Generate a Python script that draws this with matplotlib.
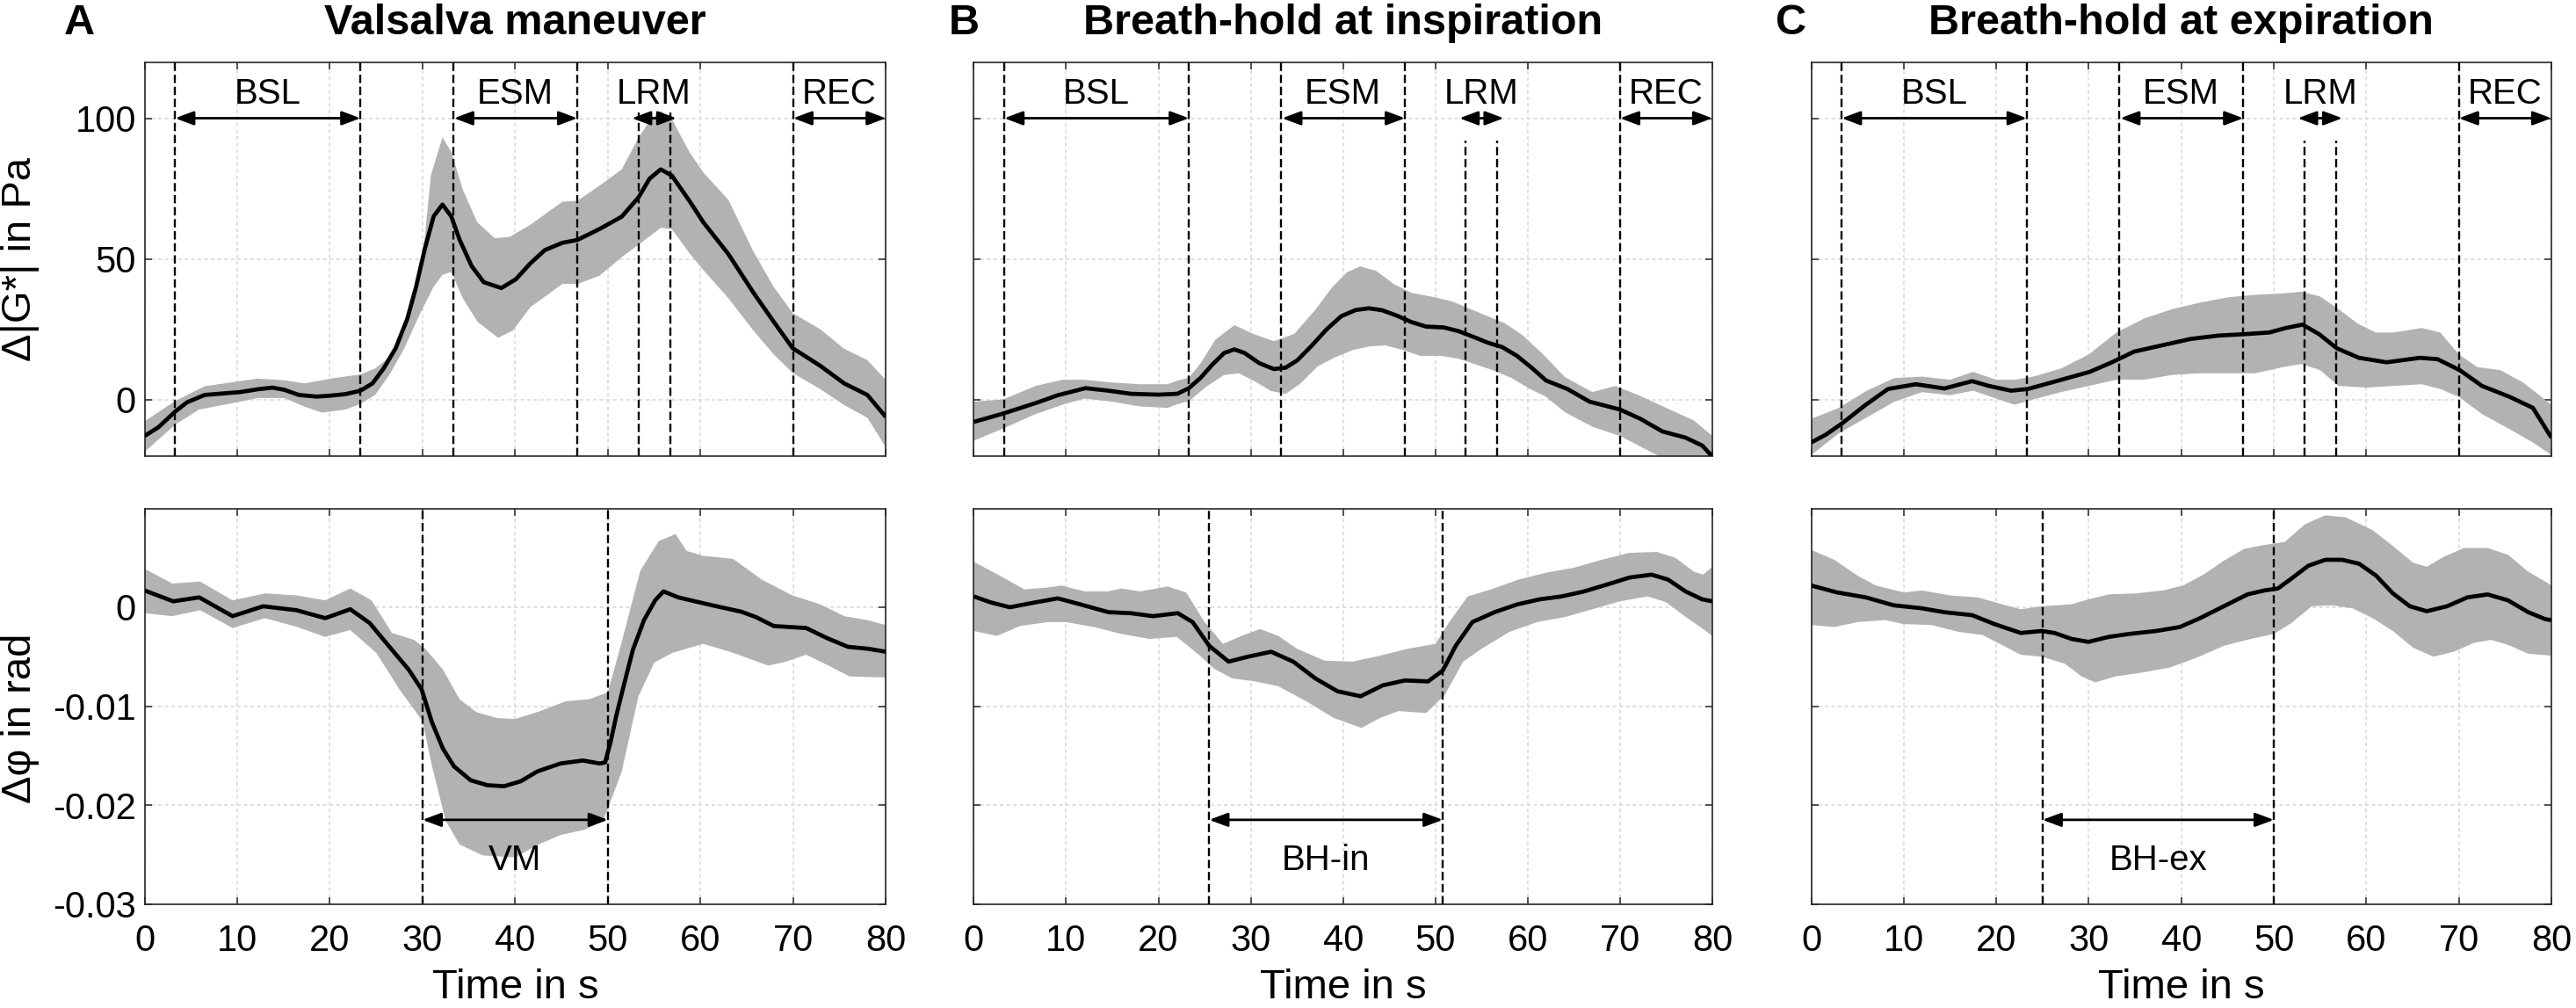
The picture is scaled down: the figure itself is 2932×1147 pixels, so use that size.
import numpy as np
import matplotlib
matplotlib.use("Agg")
import matplotlib.pyplot as plt

plt.rcParams['font.family'] = ['Liberation Sans', 'DejaVu Sans']
plt.rcParams['axes.unicode_minus'] = False

# ---------------- DATA ----------------
titles = ["Valsalva maneuver", "Breath-hold at inspiration", "Breath-hold at expiration"]
letters = ["A", "B", "C"]
x_ticks = [0, 10, 20, 30, 40, 50, 60, 70, 80]
g_ticks = [0, 50, 100]
p_ticks = [-0.03, -0.02, -0.01, 0]
p_tick_labels = ["-0.03", "-0.02", "-0.01", "0"]

# phase boundaries (s) for the |G*| panels
phase_lines = [3.3, 23.3, 33.3, 46.7, 70.0]
lrm_lines = [53.3, 56.7]
lrm_top = [102, 92, 92]
phase_names = ["BSL", "ESM", "LRM", "REC"]
phase_arrow_start = [3.3, 33.4, 52.6, 70.0]
phase_arrow_end = [23.3, 46.7, 57.4, 80.0]
phase_label_x = [13.3, 40.0, 55.0, 75.0]

# manoeuvre windows for the phase panels
man_names = ["VM", "BH-in", "BH-ex"]
man_start = [30.0, 25.5, 25.0]
man_end = [50.0, 50.8, 50.0]

# ---- A: Valsalva, delta |G*| (Pa) ----
tA_g = [0, 1.5, 3.35, 4.6, 6.5, 8.4, 10.3, 12.2, 13.8, 15.1, 16.65, 18.55, 20.1, 21.7, 23.3,
        24.6, 25.8, 27.1, 28.35, 29.3, 30.25, 31.2, 32.15, 33.1, 34.0, 35.3, 36.6, 38.5,
        40.06, 41.64, 43.2, 45.1, 46.7, 49.1, 51.5, 53.3, 54.5, 55.7, 56.9, 58.8, 60.3, 63,
        65.7, 67.9, 69.95, 72.9, 75.5, 78, 80]
mA_g = [-13, -9.9, -4.2, -1, 1.6, 2.1, 2.6, 3.6, 4.2, 3.4, 1.6, 1, 1.35, 1.9, 3.1,
        5.7, 11, 18.2, 28.6, 40, 53.6, 65.1, 69.3, 65.1, 56.8, 47.4, 41.7, 39.6,
        42.7, 48.4, 53.1, 55.7, 56.7, 60.6, 65, 71.8, 78.5, 81.8, 79.6, 70.6, 63, 51.7,
        38, 27.6, 18.2, 12, 5.7, 1.6, -6.25]
tA_g_hi = [0, 3.35, 6.5, 12.2, 15.1, 17.3, 20.1, 23.3, 24.9, 26.45, 28.0, 29.3, 30.25, 30.9,
           32.15, 33.1, 34.36, 35.9, 37.8, 39.4, 41.6, 45.1, 46.7, 49.1, 51.5, 53.3, 54.5,
           55.7, 56.9, 58.8, 60.3, 63, 65.7, 67.9, 69.95, 72.9, 75.5, 78, 80]
hiA_g = [-7.8, -0.5, 4.7, 7.4, 6.8, 5.7, 7.4, 8.9, 11, 15.1, 23.4, 38, 57.8, 79.7,
         93.2, 88, 74.5, 63, 57.3, 57.8, 62, 70.3, 70.6, 76, 81.8, 93, 99,
         102.5, 99.7, 88, 80.7, 71, 52.6, 40, 30.7, 25, 18, 14, 6.9]
tA_g_lo = [0, 3.35, 5.9, 9.06, 12.2, 15.07, 17.28, 19.18, 21.7, 23.3, 24.9, 26.45, 28.04,
           29.62, 31.2, 32.15, 33.1, 34.36, 35.94, 38.16, 39.74, 41.64, 45.11, 46.7, 49.1,
           51.5, 53.3, 54.5, 55.7, 56.9, 58.8, 60.3, 63, 65.7, 67.9, 69.95, 72.9, 75.5, 78, 80]
loA_g = [-18.7, -8.85, -3.6, -1.6, 0.5, 0.5, -2.6, -4.7, -3.6, -1.6, 1.6, 8.9, 18.2,
         29.7, 40.1, 44.3, 45.3, 35.9, 27.6, 21.9, 24.5, 32.8, 41.1, 41, 44,
         50.6, 55, 58, 61, 60.6, 52, 46, 36, 24.5, 16, 9.4, 3.7, -2, -6.5, -17]

# ---- A: Valsalva, delta phi (rad) ----
tA_p = [0, 3.1, 5.9, 9.5, 12.8, 16.4, 19.5, 22.2, 24.3, 26.7, 28.5, 29.9, 31, 32.2, 33.4, 35.2,
        37, 38.8, 40.6, 42.4, 44.9, 47.3, 49.1, 49.7, 50.3, 50.9, 51.8, 52.7, 53.9, 55.1, 56,
        57.6, 59.4, 62.2, 64.4, 66, 67.9, 71.4, 73.6, 75.9, 78.1, 80]
mA_p = [0.0017, 0.0006, 0.001, -0.0009, 0.0001, -0.0003, -0.0011, -0.0002, -0.0016, -0.0043,
        -0.0063, -0.0083, -0.0116, -0.0143, -0.0161, -0.0175, -0.018, -0.0181, -0.0176, -0.0166,
        -0.0158, -0.0155, -0.0158, -0.0157, -0.0136, -0.011, -0.0076, -0.0043, -0.0013, 0.0007,
        0.0016, 0.001, 0.0006, 0.0, -0.00045, -0.001, -0.0019, -0.0021, -0.0031, -0.004,
        -0.0042, -0.0045]
tA_p_hi = [0, 3, 6, 9.5, 13, 16.4, 19.5, 22.2, 24.5, 26.7, 29.1, 30.4, 32.2, 34, 35.8, 38, 40,
           42.4, 45.5, 48, 50, 51.5, 53.5, 55.5, 57.3, 58.5, 60.3, 63.5, 66.6, 69.9, 72.9,
           75.5, 78, 80]
hiA_p = [0.0039, 0.0024, 0.0026, 0.0007, 0.0014, 0.0012, 0.0007, 0.0019, 0.0007, -0.0026,
         -0.0033, -0.0043, -0.0063, -0.0093, -0.0106, -0.0112, -0.0113, -0.0106, -0.0095,
         -0.0093, -0.0086, -0.0035, 0.0037, 0.0067, 0.0074, 0.0057, 0.0052, 0.0049, 0.0028,
         0.0012, 0.0003, -0.0009, -0.0013, -0.0018]
tA_p_lo = [0, 3, 6, 9.5, 13, 16.5, 19.5, 22.2, 25, 27.5, 30, 31, 32.5, 34, 36.5, 40, 42.5, 45,
           47.5, 49.5, 51.5, 53.3, 55, 57, 60.3, 63.5, 67.3, 69.2, 71.4, 73.6, 76.1, 80]
loA_p = [-0.0006, -0.0009, -0.0003, -0.0021, -0.0011, -0.002, -0.003, -0.0023, -0.0046,
         -0.0083, -0.0115, -0.016, -0.0216, -0.024, -0.0251, -0.0253, -0.024, -0.023, -0.0225,
         -0.0216, -0.0166, -0.009, -0.0056, -0.0046, -0.0037, -0.0046, -0.0059, -0.0055,
         -0.0048, -0.0058, -0.007, -0.0071]

# ---- B: breath-hold inspiration, delta |G*| ----
tB_g = [0, 3.2, 6.7, 9.1, 12.1, 14.6, 17, 20, 22.04, 23.3, 24.57, 25.84, 27.12, 28.22, 29.33,
        30.92, 32.5, 33.77, 35.04, 36.63, 38.21, 39.8, 41.38, 42.81, 44.24, 45.82, 47.41,
        48.99, 50.9, 52.49, 54.07, 55.66, 57.24, 58.83, 60.41, 62.0, 64.3, 66.7, 70, 72.2,
        74.6, 77.1, 78.9, 80]
mB_g = [-8, -5, -1.3, 1.5, 4, 3.1, 2, 1.7, 2.0, 4.0, 7.7, 12.4, 16.5, 17.8, 16.5,
        12.9, 10.8, 11.3, 13.9, 19.2, 24.9, 29.6, 31.8, 32.4, 31.7, 29.8, 27.5,
        25.9, 25.6, 24.3, 22.3, 20.2, 18.6, 15.5, 11.3, 6.7, 3.7, -0.8, -3.6, -6.9,
        -11.4, -13.6, -16.4, -20.3]
tB_g_hi = [0, 3.2, 6.7, 9.6, 12, 15, 18, 21, 22.04, 23.3, 24.57, 26.16, 28.22, 30.28, 32.5,
           34.72, 36.95, 38.85, 40.43, 41.86, 43.6, 45.5, 47.41, 49.95, 51.85, 53.75, 55.66,
           57.56, 59.46, 61.68, 64, 67, 69.5, 72, 75, 78, 80]
hiB_g = [-0.8, 0, 4.8, 7, 7, 6, 5.4, 5.4, 6.7, 7.7, 12.9, 21.2, 26.4, 23.3, 20.7,
         23.3, 31.7, 40, 45.2, 47.3, 45.7, 41, 37.9, 36.3, 34.8, 32.2, 29.6,
         27, 22.8, 16, 8, 2.6, 4.8, 1.5, -3, -7.5, -13]
tB_g_lo = [0, 3.2, 6.7, 9.6, 12, 15, 18, 21, 22.04, 23.3, 25.21, 27.12, 28.7, 30.28, 32.19,
           33.77, 35.36, 37.26, 39.16, 41.07, 42.97, 44.55, 46.45, 48.36, 50.58, 52.49, 54.39,
           56.29, 58.19, 60.1, 62.0, 64, 67, 70, 72, 74, 76, 80]
loB_g = [-14.7, -10.3, -5.2, -1.9, 0.3, -0.8, -2.5, -3, -1.7, -0.6, 4.6, 8.7, 9.3, 6.7, 3,
         2, 5.6, 11.8, 15, 17.6, 18.9, 19.2, 17.6, 15.5, 15.5, 14.5, 12.4,
         10.3, 7.7, 4, 0.9, -4.5, -9.7, -13, -16.4, -19.8, -22, -23]

# ---- B: breath-hold inspiration, delta phi ----
tB_p = [0, 1.8, 3.9, 6.7, 9.1, 11.5, 14.6, 17, 19.4, 22.1, 23.7, 25.5, 27.6, 29.7, 32.2, 34.6,
        37, 39.4, 41.9, 44.3, 46.7, 49.2, 50.8, 52.2, 54, 56.4, 58.9, 61.3, 63.7, 66.1, 68.6,
        71, 73.4, 75.2, 77.1, 78.9, 80]
mB_p = [0.0011, 0.0005, 0.0, 0.0005, 0.0009, 0.0003, -0.0005, -0.0006, -0.0009, -0.0006,
        -0.0015, -0.0039, -0.0055, -0.005, -0.0045, -0.0055, -0.0072, -0.0085, -0.009, -0.0079,
        -0.0074, -0.0075, -0.0064, -0.0039, -0.0015, -0.0005, 0.0003, 0.0008, 0.0011, 0.0016,
        0.0023, 0.003, 0.0033, 0.0028, 0.0016, 0.0008, 0.0006]
tB_p_hi = [0, 3, 5.5, 8, 9.5, 12, 14.5, 16, 18, 21, 23, 25, 27, 29, 31, 33, 35, 38, 41, 44, 47,
           50, 51.5, 53.5, 56, 59, 62, 65, 68, 71, 74, 76, 78, 79, 80]
hiB_p = [0.0046, 0.0031, 0.0018, 0.002, 0.0022, 0.0016, 0.0016, 0.0019, 0.0016, 0.0021, 0.0015,
         -0.0015, -0.0037, -0.0029, -0.0022, -0.0029, -0.0042, -0.0054, -0.0055, -0.0049,
         -0.0042, -0.0037, -0.0015, 0.0011, 0.0018, 0.0028, 0.0035, 0.004, 0.0048, 0.0055,
         0.0056, 0.005, 0.0036, 0.0033, 0.0041]
tB_p_lo = [0, 2.5, 5, 8, 10, 13, 16, 19, 22, 24.5, 26, 28, 30.5, 33, 36, 39, 42, 44, 46, 49, 51,
           53, 55, 58, 61, 64, 67, 70, 73, 75, 77, 79, 80]
loB_p = [-0.0024, -0.0029, -0.0019, -0.0015, -0.0015, -0.002, -0.0027, -0.0032, -0.003, -0.0049,
         -0.0062, -0.0072, -0.0075, -0.008, -0.0095, -0.0112, -0.0122, -0.0112, -0.0105,
         -0.0107, -0.0089, -0.0055, -0.0042, -0.0025, -0.0015, -0.001, -0.0002, 0.0006, 0.0011,
         0.0005, -0.0009, -0.0022, -0.0029]

# ---- C: breath-hold expiration, delta |G*| ----
tC_g = [0, 1.6, 3.3, 5.9, 8.3, 11.3, 14.4, 17.4, 19.2, 21.6, 23.4, 26.5, 30.1, 32.5, 34.9, 38,
        41, 44, 46.8, 49.5, 51.3, 53.1, 54.9, 56.8, 59.2, 62.2, 65.8, 67.7, 70.1, 72.5, 75.5,
        78, 80]
mC_g = [-15.3, -12.5, -8.6, -1.9, 3.7, 5.4, 3.9, 6.5, 4.8, 3.1, 3.7, 6.5, 9.8, 13.2, 17, 19.3,
        21.5, 22.7, 23.2, 23.8, 25.4, 26.6, 23.2, 18.2, 14.8, 13.2, 14.8, 14.3, 10.4, 4.8, 0.9,
        -3, -13.6]
tC_g_hi = [0, 3, 6, 9, 12, 15, 17.5, 20, 22, 24, 27, 30, 33, 36, 39, 42, 45, 48, 51, 53, 55, 57,
           59, 61, 63, 66, 68, 70, 72, 74.5, 77, 80]
hiC_g = [-6.9, -3, 3.1, 7.6, 8.1, 7, 9.8, 7, 7, 8.1, 11, 16, 23.8, 28.8, 32.1, 34.4, 36.3, 37.2,
         37.7, 38.3, 36.6, 32.1, 27.1, 23.8, 23.8, 25.4, 23.8, 16, 11.5, 10.4, 5.9, -1.9]
tC_g_lo = [0, 3, 6, 9, 12, 15, 17.5, 20, 22, 24, 27, 30, 33, 36, 39, 42, 45, 48, 51, 53, 55, 57,
           60, 63, 66, 68, 70, 72.5, 75, 78, 80]
loC_g = [-19.8, -12, -6.4, -0.8, 2.6, 1.5, 3.1, 0.3, -1.9, 0, 2.6, 4.8, 7, 7, 8.7, 9.3, 9.3,
         9.3, 11.5, 12.6, 10.4, 4.8, 4.2, 4.8, 5.4, 3.7, 0.9, -5.2, -9.7, -15.3, -19.8]

# ---- C: breath-hold expiration, delta phi ----
tC_p = [0, 2.8, 5.9, 8.9, 11.9, 14.4, 17.4, 19.8, 22.65, 24.92, 26.3, 28.13, 29.96, 32.15,
        34.35, 37.28, 39.84, 42.03, 44.59, 47.15, 48.98, 50.44, 51.9, 53.73, 55.56, 57.39,
        59.22, 61.05, 62.87, 64.7, 66.53, 68.72, 70.92, 73.11, 75.31, 77.5, 79.33, 80]
mC_p = [0.0022, 0.0015, 0.001, 0.0002, -0.0001, -0.0005, -0.0008, -0.0017, -0.0026, -0.0024,
        -0.0026, -0.0032, -0.0035, -0.003, -0.0027, -0.0024, -0.002, -0.0011, 0.0001, 0.0013,
        0.0017, 0.0019, 0.0029, 0.0042, 0.0048, 0.0048, 0.0044, 0.0032, 0.0014, 0.0001,
        -0.0004, 0.0001, 0.001, 0.0013, 0.0007, -0.0005, -0.0012, -0.0013]
tC_p_hi = [0, 2.5, 5, 7, 10, 12, 15, 18, 21, 22.65, 24.92, 28.13, 29.96, 32.15, 35.08, 38.01,
           40.2, 42.4, 44.59, 46.78, 48.98, 51.17, 53.37, 55.56, 57.76, 60.68, 62.87, 65.07,
           66.53, 68.36, 70.55, 73.11, 75.31, 77.5, 79.33, 80]
hiC_p = [0.0058, 0.0048, 0.0032, 0.0022, 0.0015, 0.0017, 0.0012, 0.001, 0.0002, -0.0002, 0.0001,
         0.0003, 0.0008, 0.0013, 0.0014, 0.0017, 0.0022, 0.0033, 0.0047, 0.0059, 0.0063,
         0.0066, 0.0084, 0.0093, 0.0091, 0.0078, 0.0062, 0.0045, 0.0041, 0.0051, 0.006,
         0.006, 0.0053, 0.0036, 0.0026, 0.0022]
tC_p_lo = [0, 2.5, 5, 8, 10, 13, 16, 18.5, 21, 22.65, 24.92, 27.4, 29.23, 30.69, 32.89, 35.81,
           38.74, 41.67, 44.59, 47.52, 50.0, 51.9, 54.1, 56.29, 58.49, 60.68, 62.87, 65.07,
           67.26, 69.45, 71.65, 73.48, 75.31, 77.5, 80]
loC_p = [-0.0018, -0.002, -0.0015, -0.0013, -0.0017, -0.0018, -0.0025, -0.0028, -0.004, -0.0048,
         -0.005, -0.0057, -0.007, -0.0076, -0.007, -0.0066, -0.0061, -0.0051, -0.0039, -0.0032,
         -0.0027, -0.0016, 0.0001, 0.0002, -0.0001, -0.0011, -0.0024, -0.0041, -0.005,
         -0.0045, -0.0036, -0.0033, -0.0038, -0.0047, -0.0049]

g_series = [
    (tA_g, mA_g, tA_g_hi, hiA_g, tA_g_lo, loA_g),
    (tB_g, mB_g, tB_g_hi, hiB_g, tB_g_lo, loB_g),
    (tC_g, mC_g, tC_g_hi, hiC_g, tC_g_lo, loC_g),
]
p_series = [
    (tA_p, mA_p, tA_p_hi, hiA_p, tA_p_lo, loA_p),
    (tB_p, mB_p, tB_p_hi, hiB_p, tB_p_lo, loB_p),
    (tC_p, mC_p, tC_p_hi, hiC_p, tC_p_lo, loC_p),
]

# ---------------- LAYOUT ----------------
W, H = 2932, 1147
fig = plt.figure(figsize=(W / 100, H / 100), dpi=100)
cols_px = [(164.5, 1008.3), (1108.4, 1949.0), (2061.5, 2904.0)]
rows_px = [(70.5, 518.5), (578.5, 1028.5)]
letter_px = [73, 1080, 2021]

BAND = '#b2b2b2'
GRID = '#dadada'
SPINE = '#262626'
TICK_FS = 30
ANN_FS = 29
LAB_FS = 34
TITLE_FS = 35
dash = (0, (4, 1.8))


def make_ax(col, row):
    x0, x1 = cols_px[col]
    y0, y1 = rows_px[row]
    ax = fig.add_axes([x0 / W, 1 - y1 / H, (x1 - x0) / W, (y1 - y0) / H])
    ax.set_xlim(0, 80)
    ax.set_xticks(x_ticks)
    ax.grid(True, color=GRID, lw=1.2, ls=(0, (2.5, 2)), zorder=0)
    ax.set_axisbelow(True)
    ax.tick_params(direction='in', top=True, right=True, length=5.5, width=1.1,
                   color=SPINE, labelsize=TICK_FS, pad=7)
    ax.tick_params(axis='x', pad=16)
    for s in ax.spines.values():
        s.set_color(SPINE)
        s.set_linewidth(1.2)
    return ax


def draw_series(ax, ser):
    t, m, th, hi, tl, lo = ser
    xs = np.concatenate([np.asarray(th, float), np.asarray(tl, float)[::-1]])
    ys = np.concatenate([np.asarray(hi, float), np.asarray(lo, float)[::-1]])
    ax.fill(xs, ys, color=BAND, lw=0, zorder=2)
    ax.plot(t, m, color='k', lw=3.4, zorder=4, solid_joinstyle='round',
            solid_capstyle='butt')


arrow_style = dict(arrowstyle='<|-|>,head_length=0.8,head_width=0.3', lw=2.0, color='k',
                   mutation_scale=16, shrinkA=0, shrinkB=0)

for c in range(3):
    # ---- top row ----
    ax = make_ax(c, 0)
    ax.set_ylim(-20, 120)
    ax.set_yticks(g_ticks)
    draw_series(ax, g_series[c])
    for xv in phase_lines:
        ax.plot([xv, xv], [-20, 120], color='k', lw=1.7, ls=dash, zorder=5)
    for xv in lrm_lines:
        ax.plot([xv, xv], [-20, lrm_top[c]], color='k', lw=1.7, ls=dash, zorder=5)
    for name, a0, a1, lx in zip(phase_names, phase_arrow_start, phase_arrow_end, phase_label_x):
        ax.annotate('', xy=(a1, 100), xytext=(a0, 100), arrowprops=arrow_style, zorder=6)
        ax.text(lx, 105, name, ha='center', va='baseline', fontsize=ANN_FS, zorder=6)
    ax.tick_params(labelbottom=False)
    if c == 0:
        ax.set_ylabel('Δ|G*| in Pa', fontsize=LAB_FS)
        ax.yaxis.set_label_coords(-0.1416, 0.5)
    else:
        ax.tick_params(labelleft=False)

    # ---- bottom row ----
    ax = make_ax(c, 1)
    ax.set_ylim(-0.03, 0.01)
    ax.set_yticks(p_ticks)
    ax.set_yticklabels(p_tick_labels)
    draw_series(ax, p_series[c])
    for xv in (man_start[c], man_end[c]):
        ax.plot([xv, xv], [-0.03, 0.01], color='k', lw=1.7, ls=dash, zorder=5)
    ax.annotate('', xy=(man_end[c], -0.0215), xytext=(man_start[c], -0.0215),
                arrowprops=arrow_style, zorder=6)
    ax.text((man_start[c] + man_end[c]) / 2, -0.0266, man_names[c], ha='center',
            va='baseline', fontsize=ANN_FS, zorder=6)
    ax.set_xticklabels([str(v) for v in x_ticks])
    ax.set_xlabel('Time in s', fontsize=LAB_FS, labelpad=8)
    if c == 0:
        ax.set_ylabel('Δφ in rad', fontsize=LAB_FS)
        ax.yaxis.set_label_coords(-0.1416, 0.47)
    else:
        ax.tick_params(labelleft=False)

    # titles & panel letters
    xc = (cols_px[c][0] + cols_px[c][1]) / 2
    fig.text(xc / W, 1 - 39 / H, titles[c], ha='center', va='baseline',
             fontsize=TITLE_FS, weight='bold')
    fig.text(letter_px[c] / W, 1 - 39 / H, letters[c], ha='left', va='baseline',
             fontsize=TITLE_FS, weight='bold')

fig.savefig('out.png', dpi=100)
